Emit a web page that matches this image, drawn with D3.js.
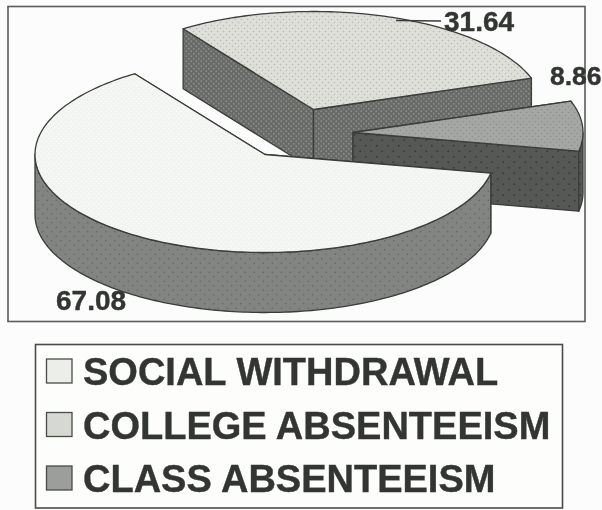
<!DOCTYPE html>
<html><head><meta charset="utf-8">
<script src="https://cdn.jsdelivr.net/npm/d3@7/dist/d3.min.js"></script>
<style>html,body{margin:0;padding:0;background:#fbfcfb}svg{display:block}text{font-family:"Liberation Sans",Arial,sans-serif;font-weight:bold;fill:#333533;stroke:#333533;stroke-width:0.4}</style>
</head><body><svg id="c" width="602" height="510"></svg>
<script>
const categories = ["SOCIAL WITHDRAWAL", "COLLEGE ABSENTEEISM", "CLASS ABSENTEEISM"];
const values = [67.08, 31.64, 8.86];
const valueLabels = ["67.08", "31.64", "8.86"];

const svg = d3.select("#c");
const defs = svg.append("defs");
defs.append("filter").attr("id","soft").append("feGaussianBlur").attr("stdDeviation",0.45);

const cx = 265, cy = 154.5, rx = 230, ry = 98, depth = 60;
const explode = [[0,0],[48.5,-45],[88,-22]];
const topFill = ["#f2f4f0","#dedfd9","#a5a7a4"];
const sideFill = ["#828481","#686a67","#565856"];
const legendFill = ["#eceee9","#d6d8d2","#9c9e9b"];
const dotTop = ["#ffffff","#b9bab4","#8e908d"];
const dotSide = ["#5f615e","#8a8c89","#3a3c3a"];
const labelSize = [28,28,26.5];

function pat(id, bg, dot, size, r){
  const p = defs.append("pattern").attr("id",id).attr("width",size).attr("height",size).attr("patternUnits","userSpaceOnUse");
  p.append("rect").attr("width",size).attr("height",size).attr("fill",bg);
  p.append("circle").attr("cx",size/4).attr("cy",size/4).attr("r",r).attr("fill",dot);
  p.append("circle").attr("cx",size*3/4).attr("cy",size*3/4).attr("r",r).attr("fill",dot);
}
topFill.forEach((c,i)=>pat("t"+i,c,dotTop[i],[5,6,6][i],0.8));
sideFill.forEach((c,i)=>pat("s"+i,c,dotSide[i],[9,5,11][i],[0.7,0.9,1][i]));

const g = svg.append("g").attr("filter","url(#soft)");

// frame
g.append("rect").attr("x",8).attr("y",6.5).attr("width",577).attr("height",315)
 .attr("fill","#fbfcfb").attr("stroke","#5a5c5a").attr("stroke-width",1.6);

const TAU = 2*Math.PI;
const start = 101/360*TAU;
const slices = d3.pie().sort(null).startAngle(start).endAngle(start+TAU)(values);

const px = d3.scaleLinear().domain([-1,1]).range([-rx,rx]);
const py = d3.scaleLinear().domain([-1,1]).range([ry,-ry]);
const line = d3.line().x(d=>d[0]).y(d=>d[1]);

function rim(i,a0,a1,dy){
  const n = Math.max(2,Math.ceil(Math.abs(a1-a0)/0.02));
  const [ox,oy]=explode[i];
  return d3.range(n+1).map(k=>{
    const a=a0+(a1-a0)*k/n;
    return [cx+ox+px(Math.sin(a)), cy+oy+py(Math.cos(a))+dy];
  });
}
function apex(i,dy){return [cx+explode[i][0],cy+explode[i][1]+dy];}
function poly(pts,fill){
  g.append("path").attr("d",line(pts)+"Z").attr("fill",fill)
   .attr("stroke","#3a3c3a").attr("stroke-width",1.3).attr("stroke-linejoin","round");
}
function wedge(i){
  const s=slices[i], a0=s.startAngle, a1=s.endAngle;
  // radial walls
  [a0,a1].forEach(a=>{
    const e=rim(i,a,a,0)[0];
    poly([apex(i,0),e,[e[0],e[1]+depth],apex(i,depth)],`url(#s${i})`);
  });
  // outer wall, front-facing part only
  const lo=TAU/4, hi=TAU*3/4;
  [[lo,hi],[lo+TAU,hi+TAU]].forEach(([l,h])=>{
    const L=Math.max(a0,l),H=Math.min(a1,h);
    if(H>L) poly(rim(i,L,H,0).concat(rim(i,H,L,depth)),`url(#s${i})`);
  });
  poly([apex(i,0)].concat(rim(i,a0,a1,0)),`url(#t${i})`);
}
[1,2,0].forEach(wedge);

// leader and value labels
g.append("path").attr("d",line([[396,20.5],[441,21]])).attr("fill","none").attr("stroke","#3a3c3a").attr("stroke-width",1.3);
const labelPos=[[56,310],[444,31],[550,85]];
valueLabels.forEach((t,i)=>{
  g.append("text").attr("x",labelPos[i][0]).attr("y",labelPos[i][1]).attr("font-size",labelSize[i]).text(t);
});

// legend
g.append("rect").attr("x",35.5).attr("y",344.5).attr("width",527).attr("height",163.5)
 .attr("fill","#fdfdfc").attr("stroke","#4a4c4a").attr("stroke-width",1.6);
const ly=d3.scalePoint().domain(categories).range([371,478]);
categories.forEach((c,i)=>{
  g.append("rect").attr("x",46.5).attr("y",ly(c)-12).attr("width",25.5).attr("height",24)
   .attr("fill",legendFill[i]).attr("stroke","#4a4c4a").attr("stroke-width",1.3);
  g.append("text").attr("x",83).attr("y",ly(c)+14).attr("font-size",38).text(c);
});
</script></body></html>
